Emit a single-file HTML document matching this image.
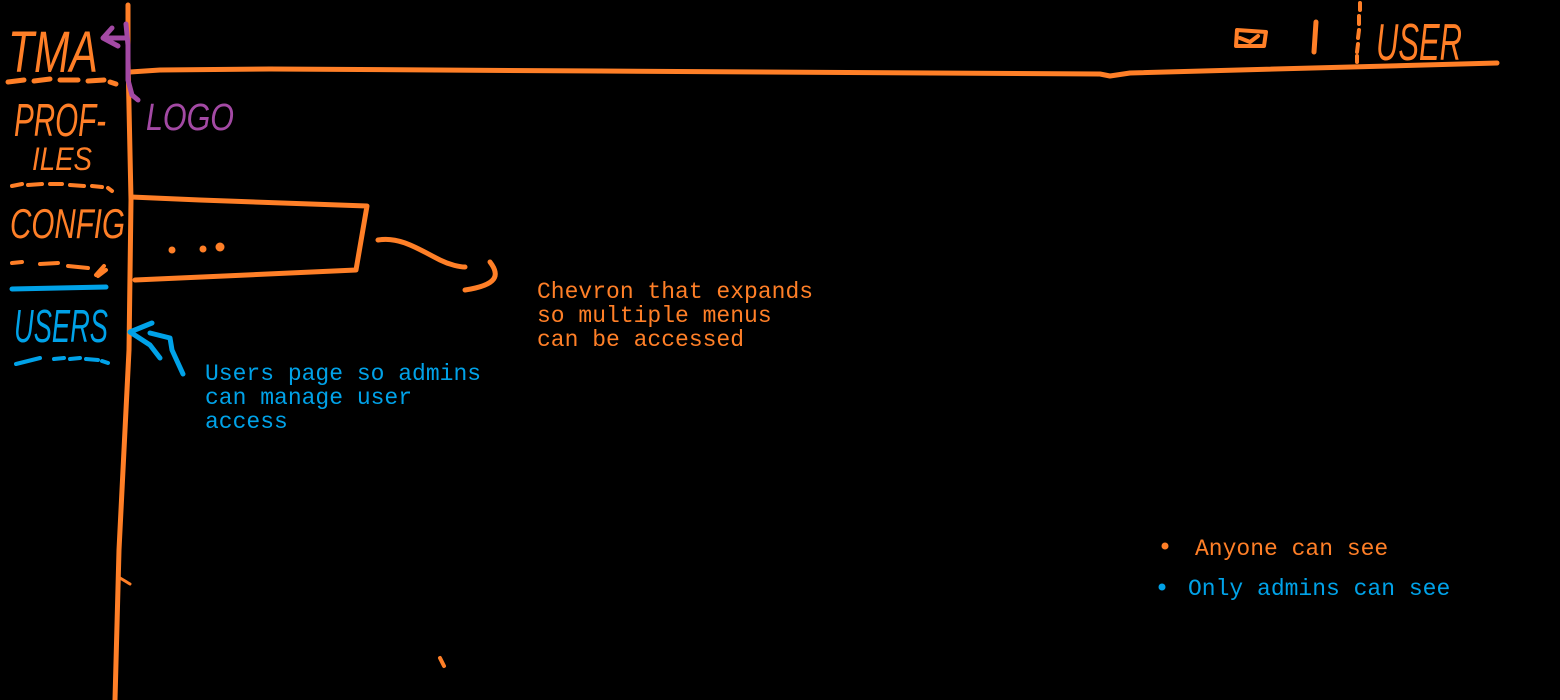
<!DOCTYPE html>
<html><head><meta charset="utf-8"><style>
html,body{margin:0;padding:0;background:#000;width:1560px;height:700px;overflow:hidden}
svg{display:block}
.h{font-family:"Liberation Sans",sans-serif;font-style:italic}
.m{font-family:"Liberation Mono",monospace;font-size:23px}
</style></head><body>
<svg width="1560" height="700" viewBox="0 0 1560 700" xmlns="http://www.w3.org/2000/svg">
<g fill="none" stroke="#ff7f27" stroke-linecap="round" stroke-linejoin="round">
<path d="M128 5 L128 60 L131 200 L129 350 L124 450 L119 550 L115 700" stroke-width="5"/>
<path d="M130 72 L160 70 L270 69 L600 71 L1100 74 L1110 76 L1130 73 L1497 63" stroke-width="5"/>
<path d="M8 82 L24 80 M34 81 L50 79 M60 80 L78 80 M88 81 L104 80 M110 82 L116 84" stroke-width="5"/>
<path d="M12 186 L22 184 M28 185 L42 184 M50 184 L62 184 M70 185 L84 186 M92 186 L102 187 M108 188 L112 191" stroke-width="4"/>
<path d="M12 263 L22 262 M40 264 L58 263 M68 266 L88 268 M96 275 L104 266 M98 276 L106 270" stroke-width="4"/>
<path d="M131 197 L200 200 L367 206 L356 270 L135 280" stroke-width="5"/>
<circle cx="172" cy="250" r="3.5" fill="#ff7f27" stroke="none"/>
<circle cx="203" cy="249" r="3.5" fill="#ff7f27" stroke="none"/>
<circle cx="220" cy="247" r="4.5" fill="#ff7f27" stroke="none"/>
<path d="M378 240 C400 236 420 250 440 260 C450 265 460 267 465 267" stroke-width="5"/>
<path d="M490 262 C500 275 498 285 465 290" stroke-width="5"/>
<path d="M1237 30 L1266 32 L1264 46 L1236 46 Z M1240 38 L1250 42 L1258 36" stroke-width="4"/>
<path d="M1316 22 L1314 52" stroke-width="5"/>
<path d="M1360 3 L1360 10 M1359 16 L1359 24 M1359 30 L1358 38 M1358 44 L1357 52 M1357 56 L1357 62" stroke-width="4"/>
<path d="M440 658 L444 666" stroke-width="4"/>
<path d="M120 578 L130 584" stroke-width="3"/>
</g>
<g fill="none" stroke="#a349a4" stroke-width="5" stroke-linecap="round" stroke-linejoin="round">
<path d="M126 24 L128 45 L128 80 L132 95 L138 100"/>
<path d="M112 28 L103 38 L118 46 M104 38 L126 38"/>
</g>
<g fill="none" stroke="#00a2e8" stroke-linecap="round" stroke-linejoin="round">
<path d="M12 289 L106 287" stroke-width="5"/>
<path d="M16 364 L40 358 M54 359 L64 358 M70 359 L80 358 M86 359 L98 360 M102 361 L108 363" stroke-width="4"/>
<path d="M130 332 L152 323 M130 332 L150 345 L160 358 M150 333 L170 338 L172 350 L183 374" stroke-width="5"/>
</g>
<text class="h" x="8" y="72" font-size="58" fill="#ff7f27" textLength="90" lengthAdjust="spacingAndGlyphs">TMA</text>
<text class="h" x="14" y="136" font-size="46" fill="#ff7f27" textLength="92" lengthAdjust="spacingAndGlyphs">PROF-</text>
<text class="h" x="32" y="170" font-size="32" fill="#ff7f27" textLength="60" lengthAdjust="spacingAndGlyphs">ILES</text>
<text class="h" x="10" y="238" font-size="42" fill="#ff7f27" textLength="115" lengthAdjust="spacingAndGlyphs">CONFIG</text>
<text class="h" x="14" y="342" font-size="46" fill="#00a2e8" textLength="94" lengthAdjust="spacingAndGlyphs">USERS</text>
<text class="h" x="146" y="130" font-size="38" fill="#a349a4" textLength="88" lengthAdjust="spacingAndGlyphs">LOGO</text>
<text class="h" x="1376" y="60" font-size="52" fill="#ff7f27" textLength="86" lengthAdjust="spacingAndGlyphs">USER</text>
<g class="m" fill="#ff7f27">
<text x="537" y="298">Chevron that expands</text>
<text x="537" y="322">so multiple menus</text>
<text x="537" y="346">can be accessed</text>
<text x="1195" y="555">Anyone can see</text>
</g>
<g class="m" fill="#00a2e8">
<text x="205" y="380">Users page so admins</text>
<text x="205" y="404">can manage user</text>
<text x="205" y="428">access</text>
<text x="1188" y="595">Only admins can see</text>
</g>
<circle cx="1165" cy="546" r="3.5" fill="#ff7f27"/>
<circle cx="1162" cy="587" r="3.5" fill="#00a2e8"/>
</svg>
</body></html>
